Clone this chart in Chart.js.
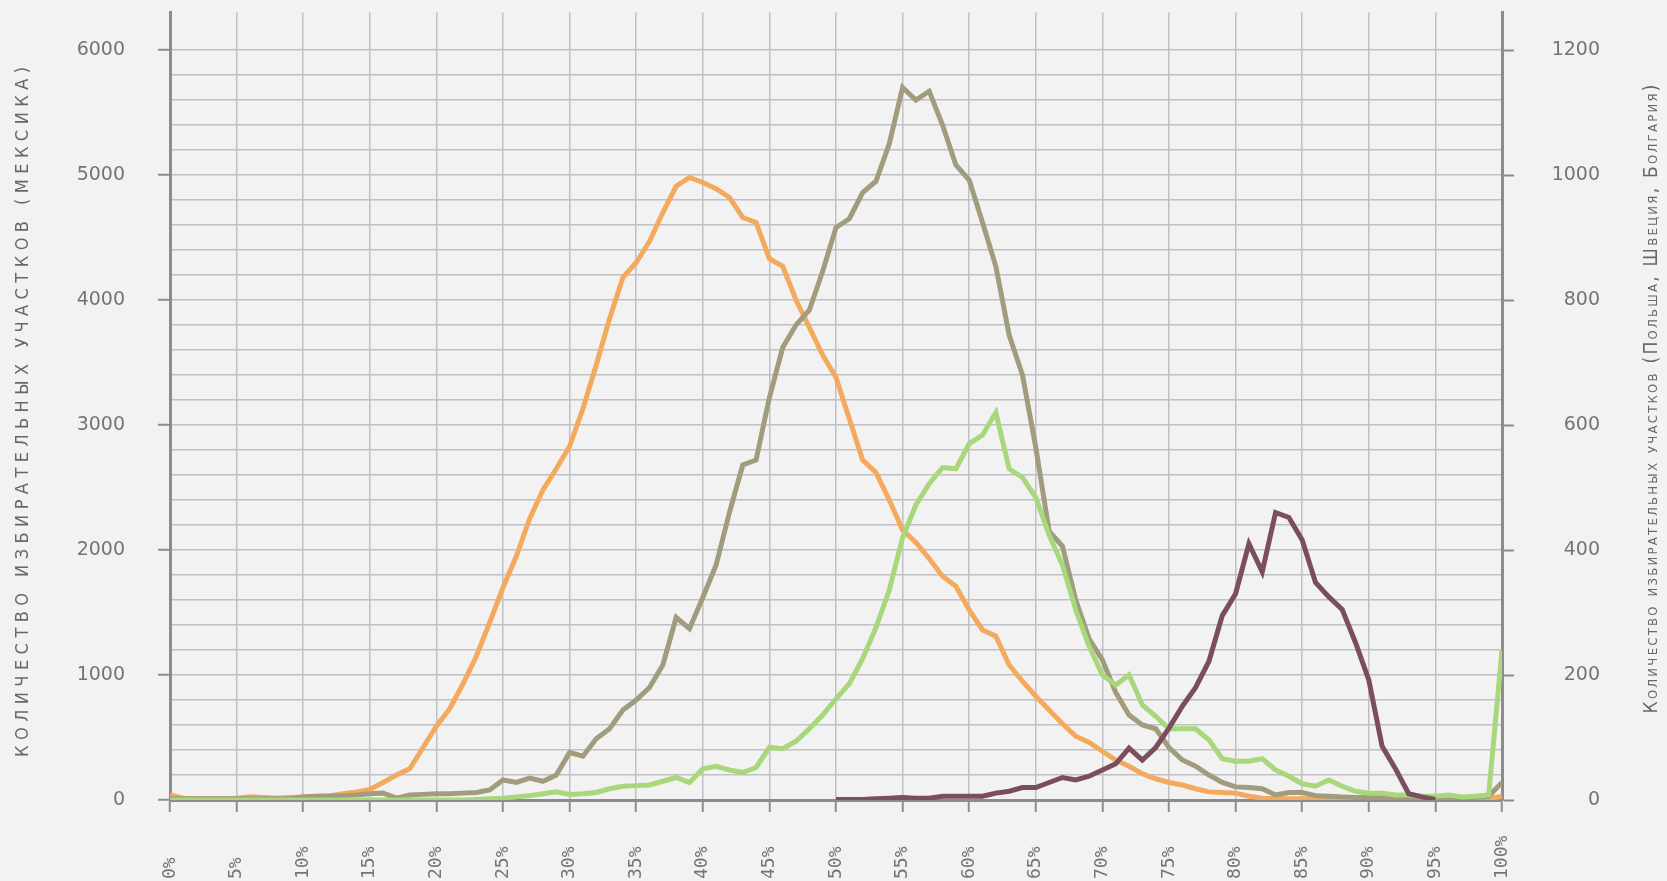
<!DOCTYPE html>
<html>
<head>
<meta charset="utf-8">
<script src="https://cdn.jsdelivr.net/npm/chart.js@4.4.1/dist/chart.umd.min.js"></script>
<style>
  html, body { margin: 0; padding: 0; background: #f2f2f2; }
  canvas { display: block; }
</style>
</head>
<body>
<canvas id="myChart" width="1667" height="881"></canvas>
<script>
// turnout, % (one point per percent)
var turnout = Array.from({ length: 101 }, function (_, i) { return i; });

// Mexico (left axis)
var mexico = [
  40, 15, 10, 10, 10, 15, 25, 20, 15, 20,
  25, 30, 35, 50, 65, 85, 140, 200, 250, 420,
  590, 730, 930, 1150, 1420, 1700, 1950, 2250, 2480, 2650,
  2830, 3130, 3480, 3850, 4180, 4300, 4470, 4700, 4910, 4980,
  4940, 4890, 4820, 4660, 4620, 4330, 4270, 4000, 3780, 3560,
  3380, 3050, 2720, 2620, 2400, 2160, 2060, 1930, 1790, 1710,
  1520, 1360, 1310, 1080, 950, 830, 720, 610, 510, 460,
  390, 320, 270, 210, 170, 140, 120, 90, 65, 60,
  55, 30, 15, 10, 10, 10, 10, 10, 10, 10,
  10, 10, 10, 10, 10, 10, 10, 10, 10, 10, 30
];

// right axis series
var poland = [
  2, 2, 2, 2, 2, 2, 2, 2, 2, 2,
  5, 6, 6, 7, 8, 10, 11, 3, 8, 9,
  10, 10, 11, 12, 16, 32, 28, 35, 30, 40,
  76, 70, 98, 114, 144, 160, 180, 216, 292, 274,
  324, 376, 460, 536, 544, 644, 724, 760, 784, 846,
  916, 930, 972, 990, 1050, 1140, 1120, 1134, 1080, 1016,
  992, 924, 854, 744, 680, 564, 430, 406, 320, 258,
  224, 172, 136, 120, 114, 84, 64, 54, 40, 28,
  21, 20, 18, 8, 12, 12, 7, 6, 5, 4,
  4, 4, 4, 4, 4, 4, 4, 4, 4, 6, 28
];

var bulgaria = [
  0, 0, 0, 0, 0, 0, 0, 0, 0, 0,
  0, 0, 0, 0, 0, 0, 0, 0, 0, 0,
  0, 0, 0, 1, 2, 3, 5, 7, 10, 13,
  9, 10, 12, 18, 22, 23, 24, 30, 36, 28,
  50, 54, 48, 44, 52, 84, 82, 94, 114, 136,
  162, 186, 226, 276, 336, 420, 472, 506, 532, 530,
  570, 584, 620, 530, 516, 484, 424, 376, 304, 246,
  200, 184, 200, 152, 134, 114, 114, 114, 96, 66,
  62, 62, 66, 48, 38, 26, 22, 32, 22, 14,
  11, 11, 8, 8, 6, 6, 8, 5, 6, 8, 240
];

var sweden = [
  null, null, null, null, null, null, null, null, null, null,
  null, null, null, null, null, null, null, null, null, null,
  null, null, null, null, null, null, null, null, null, null,
  null, null, null, null, null, null, null, null, null, null,
  null, null, null, null, null, null, null, null, null, null,
  1, 1, 1, 2, 3, 4, 3, 3, 6, 6,
  6, 6, 11, 14, 20, 20, 28, 36, 32, 38,
  48, 58, 83, 64, 84, 115, 150, 180, 222, 295,
  330, 410, 365, 460, 452, 416, 348, 325, 305, 252,
  192, 86, 50, 10, 5, 1, null, null, null, null, null
];

var leftTitle = "КОЛИЧЕСТВО ИЗБИРАТЕЛЬНЫХ УЧАСТКОВ (МЕКСИКА)";
var rightTitle = "Количество избирательных участков (Польша, Швеция, Болгария)";

var gridColor = '#bfc0c4';
var axisColor = '#8c8c8c';
var tickColor = '#747474';

function pts(arr) {
    return arr.map(function (v, i) { return { x: turnout[i], y: v }; });
}

function drawSpaced(ctx, text, x, y, len, font) {
    ctx.save();
    ctx.font = font;
    ctx.fillStyle = '#686868';
    var w = ctx.measureText(text).width;
    var gap = (len - w) / (text.length - 1);
    ctx.translate(x, y);
    ctx.rotate(-Math.PI / 2);
    ctx.textBaseline = 'middle';
    var cx = -len / 2;
    for (var ch of text) {
        ctx.fillText(ch, cx, 0);
        cx += ctx.measureText(ch).width + gap;
    }
    ctx.restore();
}

var decor = {
    id: 'decor',
    beforeDraw: function (chart) {
        var ctx = chart.ctx;
        ctx.save();
        ctx.fillStyle = '#f2f2f2';
        ctx.fillRect(0, 0, chart.width, chart.height);
        ctx.restore();
        // x labels sit on the bottom edge
        chart.scales.x.getLabelItems().forEach(function (it) {
            it.options.textAlign = 'left';
            it.options.translation = [it.options.translation[0], 879];
        });
    },
    afterDraw: function (chart) {
        var ctx = chart.ctx;
        drawSpaced(ctx, leftTitle, 23, 412, 690, "18px 'DejaVu Sans Condensed', 'DejaVu Sans'");
        drawSpaced(ctx, rightTitle, 1652, 399, 629, "small-caps 19px 'DejaVu Sans Condensed', 'DejaVu Sans'");
    }
};

function line(data, color, axis, order) {
    return {
        data: pts(data),
        yAxisID: axis,
        borderColor: color,
        backgroundColor: color,
        borderWidth: 5,
        pointRadius: 0,
        tension: 0,
        fill: false,
        spanGaps: false,
        order: order
    };
}

function yFit(w) {
    return function (s) {
        s.width = w;
        s.paddingTop = 0;
        s.paddingBottom = 0;
    };
}

var ctx = document.getElementById("myChart").getContext('2d');

var myChart = new Chart(ctx, {
    type: 'line',
    data: {
        datasets: [
            line(mexico, '#f4aa5e', 'yL', 4),
            line(poland, '#a19c7d', 'yR', 3),
            line(bulgaria, '#a8d77c', 'yR', 2),
            line(sweden, '#7b4e5e', 'yR', 1)
        ]
    },
    options: {
        responsive: false,
        devicePixelRatio: 1,
        animation: false,
        layout: { padding: { top: 12.5, left: 0, right: 67, bottom: 0 } },
        plugins: { legend: { display: false }, tooltip: { enabled: false } },
        scales: {
            x: {
                type: 'linear',
                min: 0,
                max: 100,
                afterFit: function (s) { s.height = 81; },
                grid: { color: gridColor, lineWidth: 1.5, tickLength: 12, tickColor: axisColor, tickWidth: 2 },
                border: { color: axisColor, width: 3 },
                ticks: {
                    stepSize: 5,
                    minRotation: 90,
                    maxRotation: 90,
                    autoSkip: false,
                    color: tickColor,
                    font: { family: "'DejaVu Sans Mono'", size: 18 },
                    callback: function (v) { return v + '%'; }
                }
            },
            yL: {
                position: 'left',
                min: 0,
                max: 6300,
                afterBuildTicks: function (s) { s.ticks = s.ticks.filter(function (t) { return t.value % 200 === 0; }); },
                afterFit: yFit(170),
                grid: {
                    color: gridColor,
                    lineWidth: 1.5,
                    tickLength: 12,
                    tickWidth: 2,
                    tickColor: function (c) { return c.tick && c.tick.value % 1000 === 0 ? axisColor : 'rgba(0,0,0,0)'; }
                },
                border: { color: axisColor, width: 3 },
                ticks: {
                    stepSize: 200,
                    autoSkip: false,
                    padding: 33,
                    color: tickColor,
                    font: { family: "'DejaVu Sans'", size: 19 },
                    callback: function (v) { return v % 1000 === 0 ? String(v) : ''; }
                }
            },
            yR: {
                position: 'right',
                min: 0,
                max: 1260,
                afterBuildTicks: function (s) { s.ticks = s.ticks.filter(function (t) { return t.value % 200 === 0; }); },
                afterFit: yFit(98),
                grid: { drawOnChartArea: false, tickLength: 12, tickWidth: 2, tickColor: axisColor },
                border: { color: axisColor, width: 3 },
                ticks: {
                    stepSize: 200,
                    autoSkip: false,
                    crossAlign: 'far',
                    color: tickColor,
                    font: { family: "'DejaVu Sans'", size: 19 },
                    callback: function (v) { return String(v); }
                }
            }
        }
    },
    plugins: [decor]
});
</script>
</body>
</html>
